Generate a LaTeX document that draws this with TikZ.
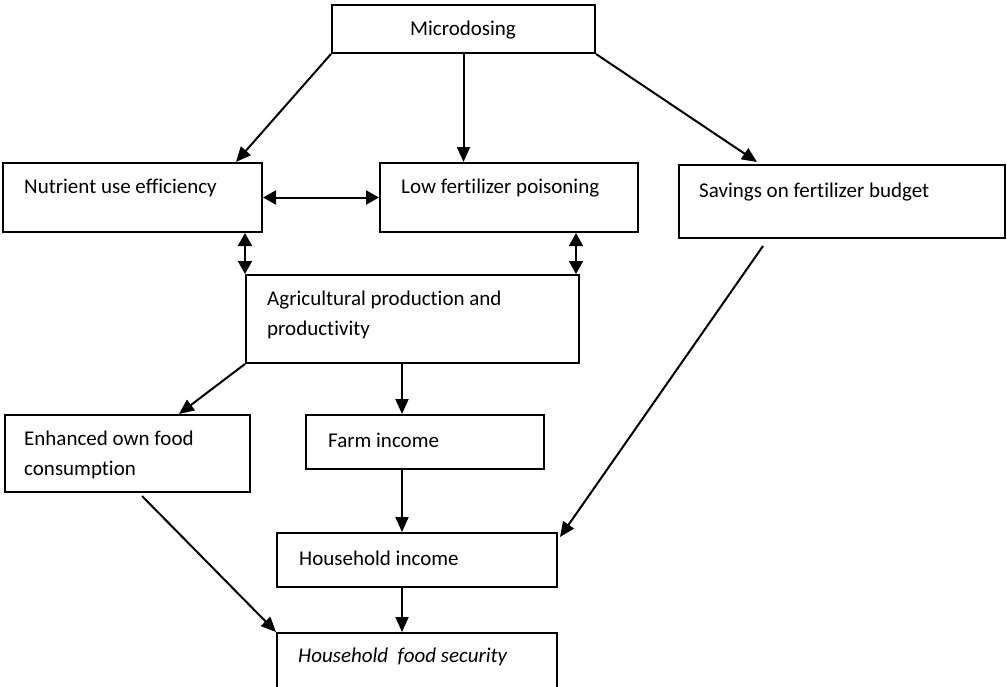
\documentclass[tikz,border=0pt]{standalone}
\usepackage{fontspec}
\setmainfont{Carlito}[Ligatures={NoCommon}]
\usetikzlibrary{arrows.meta,calc}
\begin{document}
\begin{tikzpicture}[x=1pt,y=-1pt,
  box/.style={draw,line width=2pt,inner sep=0pt,rectangle},
  txt/.style={anchor=west,inner sep=0pt,font=\fontsize{21}{30}\selectfont,align=left},
  arr/.style={line width=2pt,-{Triangle[length=15pt,width=13pt]}},
  darr/.style={line width=2pt,{Triangle[length=13pt,width=14pt]}-{Triangle[length=13pt,width=14pt]}}]
\useasboundingbox (0,0) rectangle (1007,686);
% boxes
\node[box,minimum width=263pt,minimum height=48pt] (micro) at (463.5,29) {};
\node[box,minimum width=259pt,minimum height=69pt] (nutr) at (132.5,197.5) {};
\node[box,minimum width=258pt,minimum height=69pt] (low) at (509,197.5) {};
\node[box,minimum width=326pt,minimum height=73pt] (sav) at (842,201.5) {};
\node[box,minimum width=333pt,minimum height=88pt] (agri) at (412.5,319) {};
\node[box,minimum width=245pt,minimum height=77pt] (enh) at (127.5,453.5) {};
\node[box,minimum width=238pt,minimum height=54pt] (farm) at (425,442) {};
\node[box,minimum width=280pt,minimum height=54pt] (hh) at (417,560) {};
\node[box,minimum width=280pt,minimum height=56pt] (food) at (417,661) {};
% texts
\node[txt,anchor=center] (tmicro) at (463,30) {Microdosing};
\node[txt] (tnutr) at (24,188) {Nutrient use efficiency};
\node[txt] (tlow) at (401,188) {Low fertilizer poisoning};
\node[txt] (tsav) at (699,192) {Savings on fertilizer budget};
\node[txt] (tagri) at (267,315) {Agricultural production and\\productivity};
\node[txt] (tenh) at (24,455) {Enhanced own food\\consumption};
\node[txt] (tfarm) at (328,440) {Farm income};
\node[txt] (thh) at (299,558) {Household income};
\node[txt,font=\fontsize{21}{30}\selectfont\itshape] (tfood) at (298,657) {Household\ \ food security};
% helper coordinates
\coordinate (savout) at ($(sav.south west)+(85,7)$);
\coordinate (enhout) at ($(enh.south west)+(138,3)$);
\coordinate (agriout) at ($(agri.south west)+(157,0)$);
% connectors
\draw[arr] (micro.south west) -- ($(nutr.north east)+(-27,0)$);
\draw[arr] (micro.south) -- (micro.south |- low.north);
\draw[arr] (micro.south east) -- ($(sav.north west)+(79,-2)$);
\draw[darr] (nutr.east) -- (low.west);
\draw[darr] (agri.north west) -- (agri.north west |- nutr.south);
\draw[darr] ($(agri.north east)+(-4,0)$) -- ($(agri.north east |- low.south)+(-4,0)$);
\draw[arr] (agri.south west) -- ($(enh.north east)+(-72,0)$);
\draw[arr] (agriout) -- (agriout |- farm.north);
\draw[arr] (agriout |- farm.south) -- (agriout |- hh.north);
\draw[arr] (agriout |- hh.south) -- (agriout |- food.north);
\draw[arr] (savout) -- ($(hh.north east)+(2,5)$);
\draw[arr] (enhout) -- (food.north west);
\end{tikzpicture}
\end{document}
